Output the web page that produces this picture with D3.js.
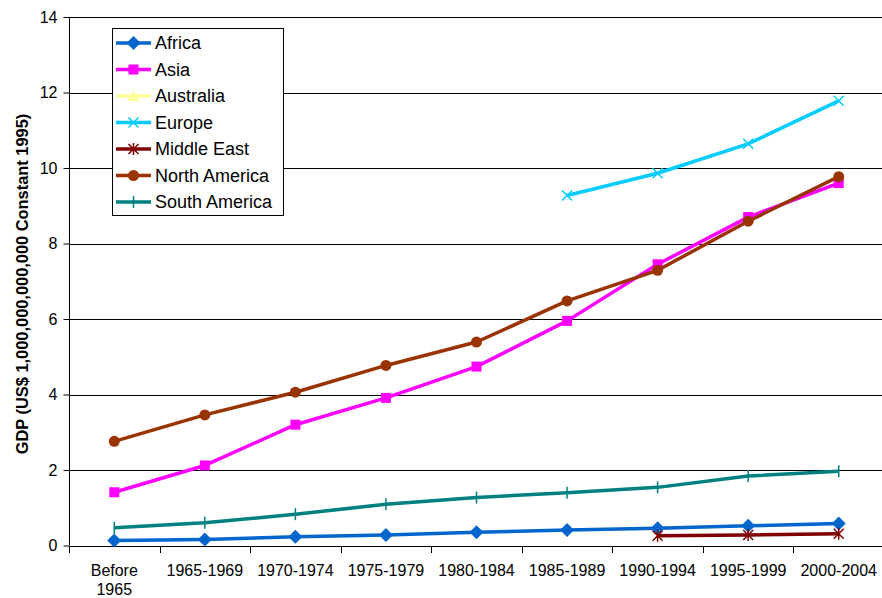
<!DOCTYPE html>
<html>
<head>
<meta charset="utf-8">
<script src="https://cdn.jsdelivr.net/npm/d3@7"></script>
<style>
  html, body { margin: 0; padding: 0; background: #fff; }
  svg text { font-family: "Liberation Sans", Arial, sans-serif; fill: #000; }
</style>
</head>
<body>
<svg id="chart" width="882" height="598"></svg>
<script>
// Period categories along the x axis
const periods = ["Before 1965", "1965-1969", "1970-1974", "1975-1979", "1980-1984",
                 "1985-1989", "1990-1994", "1995-1999", "2000-2004"];
const periodLabels = [["Before", "1965"], ["1965-1969"], ["1970-1974"], ["1975-1979"],
                      ["1980-1984"], ["1985-1989"], ["1990-1994"], ["1995-1999"], ["2000-2004"]];
const yTicks = [0, 2, 4, 6, 8, 10, 12, 14];

// GDP per region (US$ trillions, constant 1995); null = no data
const africa       = [0.13, 0.16, 0.23, 0.28, 0.35, 0.41, 0.46, 0.52, 0.58];
const asia         = [1.41, 2.12, 3.20, 3.91, 4.74, 5.95, 7.45, 8.70, 9.60];
const australia    = [null, null, null, null, null, null, null, null, null];
const europe       = [null, null, null, null, null, 9.27, 9.86, 10.64, 11.78];
const middleEast   = [null, null, null, null, null, null, 0.26, 0.28, 0.31];
const northAmerica = [2.76, 3.46, 4.06, 4.77, 5.39, 6.48, 7.29, 8.59, 9.77];
const southAmerica = [0.47, 0.60, 0.83, 1.09, 1.27, 1.40, 1.54, 1.84, 1.97];

const seriesNames = ["Africa", "Asia", "Australia", "Europe", "Middle East", "North America", "South America"];
const seriesValues = [africa, asia, australia, europe, middleEast, northAmerica, southAmerica];
const seriesColors = ["#0066CC", "#FF00FF", "#FFFF99", "#00CCFF", "#800000", "#993300", "#008080"];
const seriesMarkers = ["diamond", "square", "triangle", "x", "asterisk", "circle", "plus"];

const svg = d3.select("#chart");
const plot = { left: 69, right: 884, top: 17, bottom: 545.5 };

const x = d3.scaleBand().domain(periods).range([plot.left, plot.right]);
const y = d3.scaleLinear().domain([0, 14]).range([plot.bottom, plot.top]);

// Horizontal gridlines
svg.append("g").selectAll("line").data(yTicks.filter(t => t > 0)).join("line")
  .attr("x1", plot.left).attr("x2", plot.right)
  .attr("y1", d => Math.round(y(d)) + 0.5).attr("y2", d => Math.round(y(d)) + 0.5)
  .attr("stroke", "#000").attr("stroke-width", 1);

// Y axis
const yAxis = svg.append("g").attr("transform", `translate(${plot.left + 0.5},0)`)
  .call(d3.axisLeft(y).tickValues(yTicks).tickSize(6).tickPadding(6));
yAxis.select(".domain").attr("stroke", "#000").attr("d", `M0,${plot.top}V${plot.bottom}`);
yAxis.selectAll(".tick line").attr("stroke", "#000");
yAxis.selectAll(".tick text").attr("font-size", 16).attr("font-family", "Liberation Sans, Arial, sans-serif");

// X axis: tick marks at category boundaries
const xg = svg.append("g");
xg.append("line").attr("x1", plot.left).attr("x2", plot.right)
  .attr("y1", Math.round(plot.bottom) + 0.5).attr("y2", Math.round(plot.bottom) + 0.5)
  .attr("stroke", "#000");
xg.selectAll("line.tk").data(periods).join("line").attr("class", "tk")
  .attr("x1", d => Math.round(x(d)) + 0.5).attr("x2", d => Math.round(x(d)) + 0.5)
  .attr("y1", Math.round(plot.bottom)).attr("y2", Math.round(plot.bottom) + 7)
  .attr("stroke", "#000");
xg.selectAll("text").data(periods).join("text")
  .attr("x", d => x(d) + x.bandwidth() / 2)
  .attr("y", 576)
  .attr("text-anchor", "middle")
  .attr("font-size", 16)
  .each(function(d, i) {
    const t = d3.select(this);
    periodLabels[i].forEach((line, j) => {
      t.append("tspan").attr("x", x(d) + x.bandwidth() / 2).attr("dy", j === 0 ? 0 : 19).text(line);
    });
  });

// Y axis title
svg.append("text")
  .attr("transform", "translate(28,284) rotate(-90)")
  .attr("text-anchor", "middle")
  .attr("font-size", 16.4).attr("font-weight", "bold")
  .text("GDP (US$ 1,000,000,000,000 Constant 1995)");

// Marker shapes
function drawMarker(g, type, color, cx, cy) {
  const s = 5;
  if (type === "diamond") {
    g.append("path").attr("d", `M${cx},${cy - 7}L${cx + 7},${cy}L${cx},${cy + 7}L${cx - 7},${cy}Z`).attr("fill", color);
  } else if (type === "square") {
    g.append("rect").attr("x", cx - s).attr("y", cy - s).attr("width", 2 * s).attr("height", 2 * s).attr("fill", color);
  } else if (type === "triangle") {
    g.append("path").attr("d", `M${cx},${cy - 6}L${cx + 6},${cy + 5}L${cx - 6},${cy + 5}Z`).attr("fill", color);
  } else if (type === "circle") {
    g.append("circle").attr("cx", cx).attr("cy", cy).attr("r", 5.5).attr("fill", color);
  } else if (type === "x") {
    g.append("path").attr("d", `M${cx - s},${cy - s}L${cx + s},${cy + s}M${cx - s},${cy + s}L${cx + s},${cy - s}`)
      .attr("stroke", color).attr("stroke-width", 1.5);
  } else if (type === "asterisk") {
    g.append("path").attr("d", `M${cx - s},${cy - s}L${cx + s},${cy + s}M${cx - s},${cy + s}L${cx + s},${cy - s}M${cx},${cy - s - 1}L${cx},${cy + s + 1}`)
      .attr("stroke", color).attr("stroke-width", 1.5);
  } else if (type === "plus") {
    g.append("path").attr("d", `M${cx},${cy - 6}L${cx},${cy + 6}`)
      .attr("stroke", color).attr("stroke-width", 1.5);
  }
}

// Series lines and markers
const line = d3.line()
  .defined(d => d.v !== null)
  .x(d => x(d.p) + x.bandwidth() / 2)
  .y(d => y(d.v));

seriesNames.forEach((name, i) => {
  const pts = periods.map((p, j) => ({ p, v: seriesValues[i][j] }));
  const g = svg.append("g");
  g.append("path").datum(pts).attr("d", line)
    .attr("fill", "none").attr("stroke", seriesColors[i]).attr("stroke-width", 3.5)
    .attr("stroke-linejoin", "round");
  pts.filter(d => d.v !== null).forEach(d => {
    drawMarker(g, seriesMarkers[i], seriesColors[i], x(d.p) + x.bandwidth() / 2, y(d.v));
  });
});

// Legend
const legend = svg.append("g");
legend.append("rect").attr("x", 112.5).attr("y", 28.5).attr("width", 171).attr("height", 187)
  .attr("fill", "#fff").attr("stroke", "#000").attr("stroke-width", 1);
seriesNames.forEach((name, i) => {
  const cy = 43 + i * 26.5;
  legend.append("line").attr("x1", 116).attr("x2", 151).attr("y1", cy).attr("y2", cy)
    .attr("stroke", seriesColors[i]).attr("stroke-width", 3.5);
  drawMarker(legend, seriesMarkers[i], seriesColors[i], 133.5, cy);
  legend.append("text").attr("x", 155).attr("y", cy + 6.4).attr("font-size", 18).text(name);
});
</script>
</body>
</html>
